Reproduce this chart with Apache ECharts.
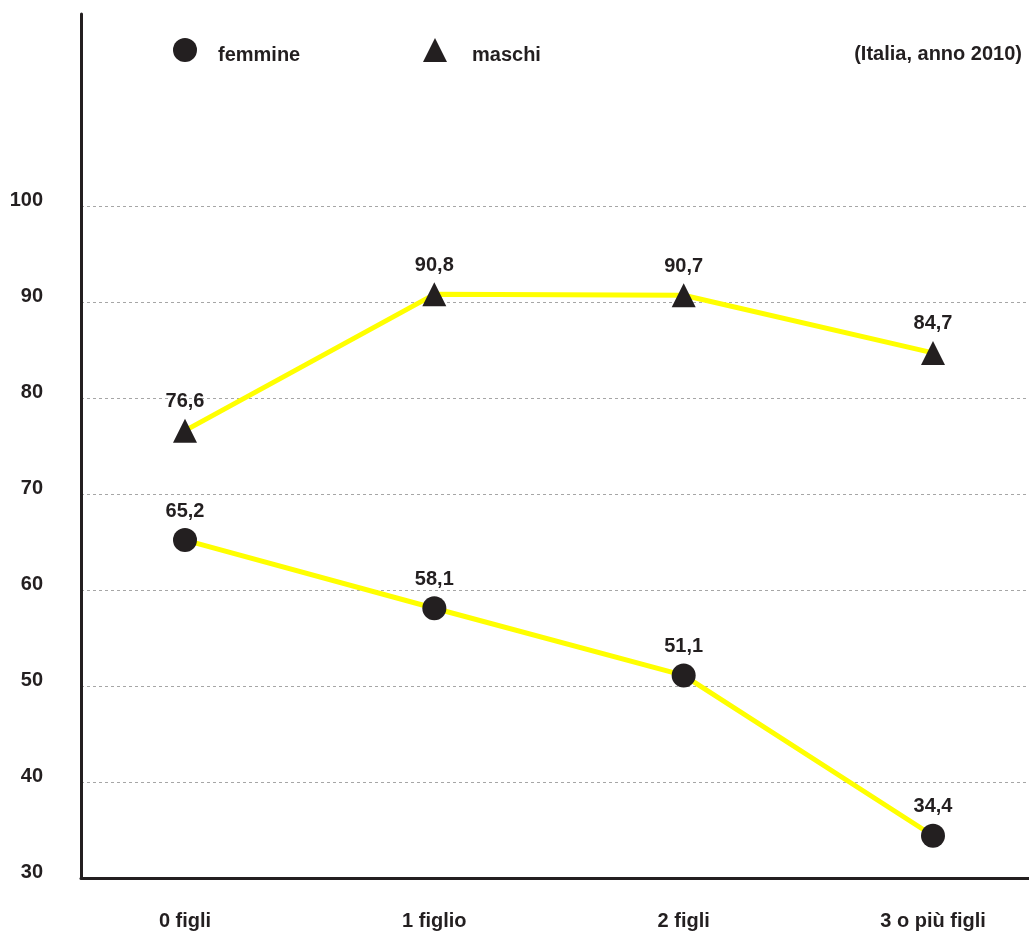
<!DOCTYPE html>
<html>
<head>
<meta charset="utf-8">
<script src="https://cdn.jsdelivr.net/npm/echarts@6/dist/echarts.min.js"></script>
<style>
  html, body { margin: 0; padding: 0; background: #ffffff; }
  #chart { width: 1029px; height: 931px; }
</style>
</head>
<body>
<div id="chart"></div>
<script>
// Categories (number of children) and the two series of rates
const categories = ['0 figli', '1 figlio', '2 figli', '3 o più figli'];
const femmine = [65.2, 58.1, 51.1, 34.4];
const maschi = [76.6, 90.8, 90.7, 84.7];
const subtitle = '(Italia, anno 2010)';

const INK = '#231f20';
const FONT = '"Liberation Sans", Arial, Helvetica, sans-serif';
const LINE = '#ffff00';

const fmt = v => String(v).replace('.', ',');

const labelStyle = {
  show: true,
  position: 'top',
  distance: 7,
  color: INK,
  fontFamily: FONT,
  fontWeight: 'bold',
  fontSize: 20,
  formatter: p => fmt(p.value)
};

// legend names sit a little below the icon centre, with a wide gap after the icon
const legendText = gap => ({
  color: INK, fontFamily: FONT, fontWeight: 'bold', fontSize: 20,
  rich: {
    t: { color: INK, fontFamily: FONT, fontWeight: 'bold', fontSize: 20, padding: [11, 0, 0, gap] }
  }
});

const chart = echarts.init(document.getElementById('chart'), null, { renderer: 'canvas' });

chart.setOption({
  backgroundColor: '#ffffff',
  animation: false,
  title: {
    text: subtitle,
    right: 7,
    top: 44,
    padding: 0,
    textStyle: { color: INK, fontFamily: FONT, fontWeight: 'bold', fontSize: 20 }
  },
  legend: [
    {
      left: 173, top: 38, padding: 0,
      itemWidth: 24, itemHeight: 24,
      data: [{ name: 'femmine', icon: 'circle' }],
      formatter: '{t|{name}}',
      textStyle: legendText(16)
    },
    {
      left: 423, top: 38, padding: 0,
      itemWidth: 24, itemHeight: 24,
      data: [{ name: 'maschi', icon: 'triangle' }],
      formatter: '{t|{name}}',
      textStyle: legendText(20)
    }
  ],
  grid: [
    // frame: dashed gridlines 30–100, bottom axis line across the full width
    { left: 81, right: 0, top: 206, bottom: 53 },
    // plotting area for the series
    { left: 185, right: 96, top: 14, bottom: 53 }
  ],
  xAxis: [
    {
      gridIndex: 0, type: 'value', min: 0, max: 1,
      axisLine: { show: true, lineStyle: { color: INK, width: 3 } },
      axisTick: { show: false }, axisLabel: { show: false }, splitLine: { show: false }
    },
    {
      gridIndex: 1, type: 'category', data: categories, boundaryGap: false,
      axisLine: { show: false }, axisTick: { show: false }, splitLine: { show: false },
      axisLabel: { color: INK, fontFamily: FONT, fontWeight: 'bold', fontSize: 20, margin: 33 }
    }
  ],
  yAxis: [
    {
      gridIndex: 0, type: 'value', min: 30, max: 100, interval: 10,
      axisLine: { show: false }, axisTick: { show: false },
      axisLabel: {
        color: INK, fontFamily: FONT, fontWeight: 'bold', fontSize: 20,
        margin: 38, verticalAlign: 'bottom', lineHeight: 12
      },
      splitLine: { show: true, lineStyle: { color: '#a6a6a6', width: 1, type: [3, 3] } }
    },
    {
      gridIndex: 1, type: 'value', min: 30, max: 120, offset: 104,
      axisLine: { show: true, lineStyle: { color: INK, width: 3 } },
      axisTick: { show: false }, axisLabel: { show: false }, splitLine: { show: false }
    }
  ],
  series: [
    {
      name: 'femmine', type: 'line', xAxisIndex: 1, yAxisIndex: 1,
      data: femmine,
      symbol: 'circle', symbolSize: 24, showAllSymbol: true,
      itemStyle: { color: INK, opacity: 1 },
      lineStyle: { color: LINE, width: 5 },
      label: labelStyle,
      z: 3
    },
    {
      name: 'maschi', type: 'line', xAxisIndex: 1, yAxisIndex: 1,
      data: maschi,
      symbol: 'triangle', symbolSize: 24, showAllSymbol: true,
      itemStyle: { color: INK, opacity: 1 },
      lineStyle: { color: LINE, width: 5 },
      label: labelStyle,
      z: 3
    }
  ]
});
</script>
</body>
</html>
